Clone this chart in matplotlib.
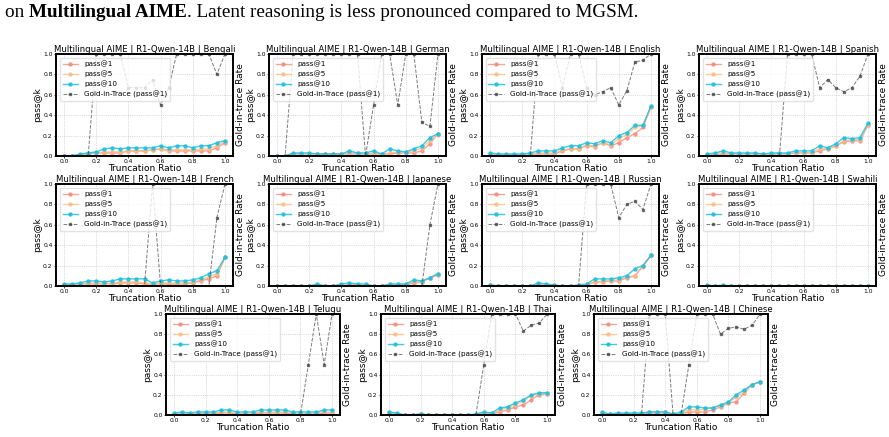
import numpy as np
import matplotlib.pyplot as plt

# truncation ratios (x) shared by every panel
ratios = np.round(np.arange(0, 1.0001, 0.05), 2)

languages = ["Bengali", "German", "English", "Spanish",
             "French", "Japanese", "Russian", "Swahili",
             "Telugu", "Thai", "Chinese"]

pass1 = {
    "Bengali":  [0, 0, .01, .02, .03, .03, .03, .03, .05, .05, .05, .06, .07, .05, .05, .05, .05, .05, .05, .08, .13],
    "German":   [0, 0, .02, .02, .02, .02, .02, .02, .02, .02, .02, .02, .02, .02, .02, .03, .03, .03, .05, .12, .22],
    "English":  [.01, .01, .01, .01, .01, .02, .02, .02, .02, .05, .07, .07, .10, .09, .13, .10, .13, .18, .22, .28, .48],
    "Spanish":  [.01, .01, .02, .02, .02, .02, .02, .02, .02, .02, .02, .03, .03, .03, .05, .07, .10, .14, .15, .15, .30],
    "French":   [.01, .01, .02, .02, .02, .02, .02, .03, .03, .03, .02, .02, .02, .02, .02, .02, .03, .05, .07, .10, .28],
    "Japanese": [0, 0, 0, 0, 0, 0, 0, 0, 0, .01, .01, 0, 0, 0, .01, .01, .01, .03, .04, .08, .11],
    "Russian":  [0, 0, 0, 0, 0, 0, .01, .01, 0, 0, 0, 0, .01, .04, .04, .05, .05, .08, .10, .20, .30],
    "Swahili":  [0] * 21,
    "Telugu":   [.01, .01, .01, .01, .01, .01, .02, .02, .01, .01, .01, .02, .02, .02, .02, .01, .01, .01, .01, .02, .02],
    "Thai":     [.01, .01, 0, 0, .01, 0, 0, 0, 0, 0, 0, 0, .02, .01, .03, .05, .08, .10, .15, .20, .21],
    "Chinese":  [.01, .01, .01, .01, .01, .01, .02, .02, .02, .01, .01, .03, .03, .03, .05, .08, .12, .13, .22, .30, .33],
}

pass5 = {
    "Bengali":  [0, 0, .01, .02, .03, .04, .04, .04, .05, .05, .05, .06, .07, .06, .06, .06, .06, .07, .07, .10, .14],
    "German":   [0, 0, .02, .02, .02, .02, .02, .02, .02, .03, .03, .02, .03, .02, .03, .04, .04, .05, .08, .15, .21],
    "English":  [.02, .01, .01, .01, .01, .02, .03, .03, .03, .06, .07, .07, .11, .10, .13, .11, .17, .21, .28, .30, .48],
    "Spanish":  [.01, .02, .03, .02, .02, .02, .02, .02, .02, .02, .02, .03, .03, .03, .07, .07, .10, .15, .16, .16, .30],
    "French":   [.01, .01, .02, .03, .03, .03, .03, .04, .04, .04, .03, .02, .03, .03, .03, .03, .04, .06, .09, .12, .28],
    "Japanese": [0, 0, 0, 0, 0, .01, 0, 0, .01, .02, .01, .01, 0, 0, .01, .01, .02, .04, .04, .08, .12],
    "Russian":  [.01, 0, 0, 0, 0, 0, .02, .01, .01, 0, 0, 0, .01, .04, .05, .06, .06, .09, .10, .19, .30],
    "Swahili":  [0] * 21,
    "Telugu":   [.01, .02, .01, .02, .02, .02, .03, .03, .02, .02, .02, .03, .03, .03, .03, .02, .02, .02, .02, .03, .03],
    "Thai":     [.02, .01, 0, 0, .01, 0, 0, 0, 0, 0, 0, 0, .02, .01, .05, .07, .10, .14, .19, .21, .22],
    "Chinese":  [.02, .01, .01, .01, .01, .01, .03, .03, .03, .01, .02, .05, .05, .06, .07, .09, .12, .18, .23, .30, .33],
}

pass10 = {
    "Bengali":  [0, 0, .02, .03, .04, .07, .08, .07, .08, .08, .08, .08, .10, .08, .10, .10, .08, .10, .10, .13, .15],
    "German":   [0, 0, .03, .03, .03, .02, .02, .02, .02, .05, .03, .03, .05, .02, .07, .05, .04, .07, .10, .18, .22],
    "English":  [.03, .02, .02, .02, .02, .03, .05, .05, .05, .08, .10, .10, .13, .12, .15, .13, .20, .23, .30, .30, .49],
    "Spanish":  [.02, .03, .05, .03, .03, .03, .03, .02, .03, .03, .03, .05, .05, .05, .10, .08, .12, .18, .17, .18, .32],
    "French":   [.02, .02, .03, .05, .05, .04, .05, .07, .07, .07, .07, .03, .05, .06, .05, .05, .06, .08, .12, .15, .28],
    "Japanese": [0, 0, 0, 0, 0, .02, 0, 0, .02, .03, .02, .02, 0, 0, .02, .02, .02, .06, .05, .08, .12],
    "Russian":  [.01, 0, 0, 0, 0, 0, .03, .02, .01, 0, 0, .01, .02, .07, .07, .07, .08, .10, .17, .20, .30],
    "Swahili":  [.01, 0, .01, 0, 0, 0, 0, 0, 0, 0, 0, 0, 0, 0, 0, 0, 0, 0, 0, 0, 0],
    "Telugu":   [.02, .03, .02, .03, .03, .03, .05, .05, .03, .03, .03, .05, .05, .05, .05, .03, .03, .03, .03, .05, .05],
    "Thai":     [.03, .02, 0, 0, .01, 0, 0, 0, 0, 0, 0, .01, .03, .02, .07, .08, .12, .15, .20, .22, .22],
    "Chinese":  [.03, .01, .02, .02, .02, .02, .03, .03, .03, .01, .03, .08, .08, .07, .07, .10, .13, .20, .25, .30, .33],
}

gold = {
    "Bengali":  [0, 0, 0, 0, 1, 1, 1, 1, .67, .67, .67, .75, .5, .67, 1, 1, 1, 1, 1, .8, 1],
    "German":   [0, 0, 1, 1, 1, 1, 1, 1, 1, 1, 1, 0, .5, 1, 1, .5, 1, 1, .33, .29, 1],
    "English":  [0, 0, 0, 0, 0, 0, 1, 1, 1, .67, 1, 1, .67, .6, .63, .67, .5, .64, .92, .94, 1],
    "Spanish":  [0, 0, 0, 0, 0, 0, 0, 0, 0, 0, 1, 1, 1, 1, .67, .75, .67, .63, .67, .78, 1],
    "French":   [0, 0, 0, 0, 0, 0, 0, 0, 0, 0, 0, 1, 0, 0, 0, 0, 0, 0, 0, .67, 1],
    "Japanese": [0, 0, 0, 0, 0, 0, 0, 0, 0, 0, 0, 0, 0, 0, 0, 0, 0, 0, 0, .6, 1],
    "Russian":  [0, 0, 0, 0, 0, 0, 0, 0, 0, 0, 0, 0, 1, 1, 1, 1, .67, .8, .83, .75, 1],
    "Swahili":  [0] * 21,
    "Telugu":   [0, 0, 0, 0, 0, 0, 0, 0, 0, 0, 0, 0, 0, 0, 0, 0, 0, .5, 1, .5, 1],
    "Thai":     [0, 0, 0, 0, 0, 0, 0, 0, 0, 0, 0, 0, .5, 1, 1, 1, 1, .83, .89, .91, 1],
    "Chinese":  [0, 0, 0, 0, 0, 0, 1, 1, 1, 0, 0, .5, 1, 1, 1, .8, .86, .87, .85, .89, 1],
}

W, H = 889, 437
fig = plt.figure(figsize=(W / 100, H / 100), dpi=100)

# axes boxes in pixels: (left, top, width, height)
boxes = []
for top in (54, 184):
    for left in (56, 269, 482, 699):
        boxes.append((left, top, 177, 102))
for left in (166, 381, 594):
    boxes.append((left, 314, 174, 101))

c1, c5, c10, cg = "#f4877a", "#fdbb7d", "#1fc0e0", "#444444"

for lang, (l, t, w, h) in zip(languages, boxes):
    ax = fig.add_axes([l / W, 1 - (t + h) / H, w / W, h / H])
    ax.plot(ratios, pass1[lang], "-o", color=c1, ms=2.2, lw=1.0, alpha=0.75, label="pass@1")
    ax.plot(ratios, pass5[lang], "-o", color=c5, ms=2.2, lw=1.0, alpha=0.75, label="pass@5")
    ax.plot(ratios, pass10[lang], "-o", color=c10, ms=2.2, lw=1.0, alpha=0.85, label="pass@10")
    ax.set_ylim(0, 1)
    ax.set_xlim(-0.05, 1.05)
    ax.set_xticks([0, .2, .4, .6, .8, 1.0])
    ax.set_yticks([0, .2, .4, .6, .8, 1.0])
    ax.tick_params(labelsize=4.3, length=1.5, width=0.5, pad=1)
    ax.grid(True, ls=":", lw=0.5, color="#bbbbbb")
    ax.set_ylabel("pass@k", fontsize=6.5, labelpad=1)
    ax.set_xlabel("Truncation Ratio", fontsize=6.5, labelpad=0)
    ax.set_title(f"Multilingual AIME | R1-Qwen-14B | {lang}", fontsize=6.1, pad=1.5)
    for sp in ax.spines.values():
        sp.set_linewidth(1.2)

    ax2 = ax.twinx()
    ax2.plot(ratios, gold[lang], "--s", color=cg, ms=2.0, lw=0.7, alpha=0.7,
             label="Gold-in-Trace (pass@1)")
    ax2.set_ylim(0, 1)
    ax2.set_yticks([])
    ax2.set_ylabel("Gold-in-trace Rate", fontsize=6.5, labelpad=2)
    for sp in ax2.spines.values():
        sp.set_linewidth(1.2)

    h1, lb1 = ax.get_legend_handles_labels()
    h2, lb2 = ax2.get_legend_handles_labels()
    ax2.legend(h1 + h2, lb1 + lb2, loc="upper left", fontsize=5.2, framealpha=0.8,
               handlelength=2.2, borderpad=0.4, labelspacing=0.45, edgecolor="#dddddd")

# caption line from the paper, cut at top
first = fig.axes[0]
t1 = fig.text(5 / W, 1 - 17 / H, "on ", fontsize=13.8, family="Liberation Serif")
a2 = first.annotate("Multilingual AIME", xy=(1, 0), xycoords=t1, va="bottom",
                    fontsize=13.8, family="Liberation Serif", weight="bold",
                    annotation_clip=False)
first.annotate(". Latent reasoning is less pronounced compared to MGSM.",
               xy=(1, 0), xycoords=a2, va="bottom", fontsize=13.8,
               family="Liberation Serif", annotation_clip=False)

fig.savefig("out.png", dpi=100)
